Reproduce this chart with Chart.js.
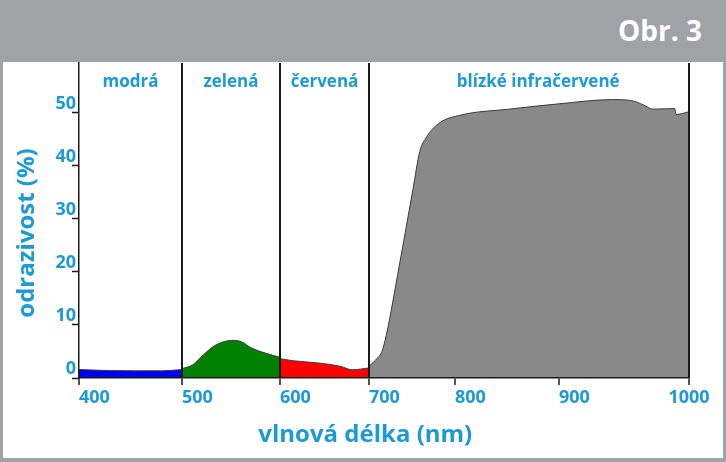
<!DOCTYPE html>
<html lang="cs">
<head>
<meta charset="utf-8">
<title>Obr. 3</title>
<script src="https://cdn.jsdelivr.net/npm/chart.js@4.4.1/dist/chart.umd.min.js"></script>
<style>
    html, body { margin: 0; padding: 0; }
    body {
        width: 726px; height: 462px; overflow: hidden; position: relative;
        background: #a1a2a6; font-family: 'Open Sans', sans-serif;
    }
    #obr {
        position: absolute; right: 24px; top: 11px;
        color: #fff; font-weight: bold; font-size: 28px; line-height: normal;
    }
    #panel {
        position: absolute; left: 3px; top: 62px; width: 720px; height: 396px; background: #fff;
    }
</style>
</head>
<body>
<div id="obr">Obr. 3</div>
<div id="panel"><canvas id="graf" width="720" height="396"></canvas></div>
<script>
// odrazivost (%) podle vlnové délky (nm)
const modraX = [400, 430, 480, 500];
const modraY = [1.6, 1.4, 1.35, 1.6];
const zelenaX = [500, 511, 522, 532, 542, 552, 561, 571, 585, 600];
const zelenaY = [1.75, 2.5, 4.4, 5.95, 6.8, 7.1, 6.8, 5.65, 4.7, 3.9];
const cervenaX = [600, 615, 645, 668, 681, 700];
const cervenaY = [3.65, 3.25, 2.8, 2.2, 1.55, 1.9];
const infraX = [700, 710, 715, 720, 735, 751, 759, 766, 781, 806, 852, 900, 941, 956, 965, 972, 989, 990, 1000];
const infraY = [2.2, 3.8, 5, 8, 21, 35.5, 42.7, 45.2, 48, 49.6, 50.7, 51.7, 52.5, 52.3, 51.5, 50.7, 50.8, 49.7, 50.2];

const pasma = ['modrá', 'zelená', 'červená', 'blízké infračervené'];
const pasmaStred = [450, 550, 650, 880];
const hranice = [500, 600, 700, 1000];
const osaYTicks = [0, 10, 20, 30, 40, 50];

// puvodni osa x neni rovnomerna - relativni sirky useku po 100 nm
const osaXUseky = [103, 98, 89, 86, 104, 130];

const modraBarva = '#1b9ad6';
const cara = '#1a1a1a';

class UsekovaOsa extends Chart.LinearScale {
    static id = 'usekova';
    static defaults = Chart.LinearScale.defaults;

    getPixelForValue(value) {
        if (value === null || isNaN(value)) return NaN;
        const krok = 100;
        const celkem = osaXUseky.reduce((a, b) => a + b, 0);
        let i = Math.floor((value - this.min) / krok);
        i = Math.max(0, Math.min(osaXUseky.length - 1, i));
        let pred = 0;
        for (let k = 0; k < i; k++) pred += osaXUseky[k];
        const dec = (pred + osaXUseky[i] * (value - this.min - i * krok) / krok) / celkem;
        return this.getPixelForDecimal(dec);
    }

    getValueForPixel(pixel) {
        const celkem = osaXUseky.reduce((a, b) => a + b, 0);
        const d = this.getDecimalForPixel(pixel) * celkem;
        let pred = 0;
        for (let k = 0; k < osaXUseky.length; k++) {
            if (d <= pred + osaXUseky[k] || k === osaXUseky.length - 1) {
                return this.min + k * 100 + (d - pred) / osaXUseky[k] * 100;
            }
            pred += osaXUseky[k];
        }
        return this.max;
    }

    _computeLabelItems(chartArea) {
        const items = super._computeLabelItems(chartArea);
        // posledni popisek (1000) je na originale vycentrovany
        if (items.length) items[items.length - 1].options.textAlign = 'center';
        return items;
    }
}
Chart.register(UsekovaOsa);

function oblast(xs, ys, barva) {
    return {
        data: xs.map((x, i) => ({ x: x, y: ys[i] })),
        backgroundColor: barva,
        borderColor: '#3a3a3a',
        borderWidth: 1,
        fill: 'origin',
        pointRadius: 0,
        cubicInterpolationMode: 'monotone'
    };
}

const popiskyPasem = {
    id: 'popiskyPasem',
    afterDatasetsDraw(chart) {
        const { ctx, scales } = chart;
        ctx.save();
        ctx.font = 'bold 17px "Open Sans"';
        ctx.fillStyle = modraBarva;
        ctx.textAlign = 'center';
        ctx.textBaseline = 'alphabetic';
        pasma.forEach((text, i) => {
            ctx.fillText(text, scales.x.getPixelForValue(pasmaStred[i]), scales.y.getPixelForValue(54.8));
        });
        ctx.restore();
    }
};

Chart.defaults.font.family = "'Open Sans', sans-serif";
Chart.defaults.font.weight = 'bold';
Chart.defaults.color = modraBarva;

const ctx = document.getElementById('graf').getContext('2d');
new Chart(ctx, {
    type: 'line',
    data: {
        datasets: [
            oblast(modraX, modraY, '#0000f5'),
            oblast(zelenaX, zelenaY, '#008000'),
            oblast(cervenaX, cervenaY, '#ff0000'),
            oblast(infraX, infraY, '#898989')
        ]
    },
    options: {
        responsive: false,
        animation: false,
        layout: { padding: { top: 1, right: 34, left: 0, bottom: 0 } },
        plugins: { legend: { display: false }, tooltip: { enabled: false } },
        scales: {
            x: {
                type: 'usekova',
                min: 400,
                max: 1000,
                ticks: {
                    stepSize: 100, align: 'start', padding: 2, font: { size: 18 },
                    callback: v => String(v)
                },
                grid: {
                    z: 1,
                    lineWidth: 2,
                    color: c => hranice.includes(c.tick && c.tick.value) ? cara : 'rgba(0,0,0,0)',
                    tickColor: cara,
                    tickWidth: 1.5,
                    tickLength: 7
                },
                border: { display: true, color: cara, width: 1.5, z: 1 },
                title: {
                    display: true,
                    text: 'vlnová délka (nm)\u00a0\u00a0\u00a0\u00a0\u00a0\u00a0',
                    font: { size: 24 },
                    padding: { top: 0, bottom: 8 }
                },
                afterFit: s => { s.height = 80; s.paddingLeft = 0; s.paddingRight = 0; }
            },
            y: {
                min: 0,
                max: 59.4,
                ticks: { stepSize: 10, align: 'end', padding: -4, font: { size: 18 } },
                afterBuildTicks: s => { s.ticks = s.ticks.filter(t => osaYTicks.includes(t.value)); },
                grid: { drawOnChartArea: false, tickColor: cara, tickWidth: 1.5, tickLength: 7 },
                border: { display: true, color: cara, width: 1.5, z: 1 },
                title: {
                    display: true,
                    text: 'odrazivost (%)\u00a0\u00a0\u00a0\u00a0',
                    font: { size: 24 },
                    padding: { top: 10, bottom: 0 }
                },
                afterFit: s => { s.width = 76; s.paddingTop = 0; s.paddingBottom = 0; }
            }
        }
    },
    plugins: [popiskyPasem]
});
</script>
</body>
</html>
